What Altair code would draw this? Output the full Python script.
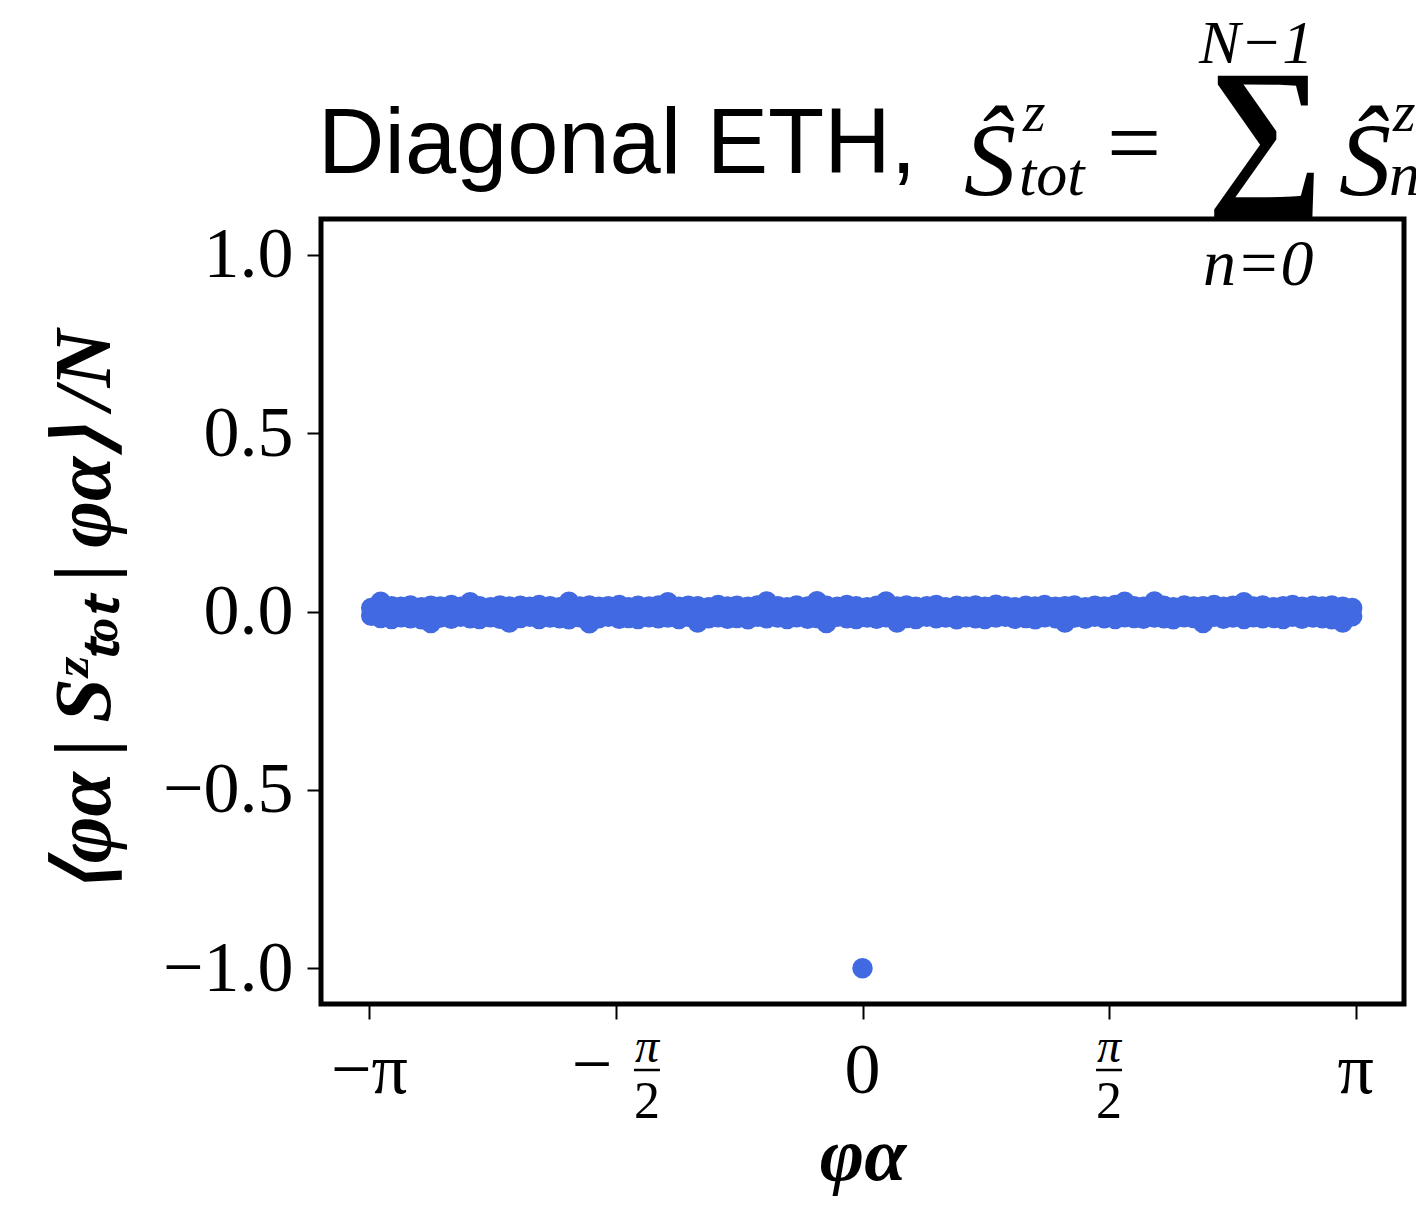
import math
import altair as alt
import pandas as pd

PI = math.pi

# ---------------- data ----------------
band_x = [
    -3.13, -3.07, -3.00, -2.94, -2.88, -2.81, -2.75, -2.69, -2.62, -2.56,
    -2.50, -2.44, -2.37, -2.31, -2.25, -2.18, -2.12, -2.06, -1.99, -1.93,
    -1.87, -1.80, -1.74, -1.68, -1.62, -1.55, -1.49, -1.43, -1.36, -1.30,
    -1.24, -1.17, -1.11, -1.05, -0.98, -0.92, -0.86, -0.80, -0.73, -0.67,
    -0.61, -0.54, -0.48, -0.42, -0.35, -0.29, -0.23, -0.16, -0.10, -0.04,
    0.03, 0.09, 0.15, 0.22, 0.28, 0.34, 0.41, 0.47, 0.53, 0.60,
    0.66, 0.72, 0.78, 0.85, 0.91, 0.97, 1.04, 1.10, 1.16, 1.23,
    1.29, 1.35, 1.42, 1.48, 1.54, 1.61, 1.67, 1.73, 1.79, 1.86,
    1.92, 1.98, 2.05, 2.11, 2.17, 2.24, 2.30, 2.36, 2.43, 2.49,
    2.55, 2.62, 2.68, 2.74, 2.80, 2.87, 2.93, 2.99, 3.06, 3.12,
]
band_y_upper = [
    0.010, 0.027, 0.015, 0.013, 0.017, 0.012, 0.016, 0.014, 0.018, 0.013,
    0.026, 0.015, 0.012, 0.017, 0.014, 0.016, 0.013, 0.018, 0.015, 0.012,
    0.027, 0.014, 0.017, 0.013, 0.015, 0.018, 0.012, 0.016, 0.014, 0.017,
    0.026, 0.013, 0.016, 0.015, 0.012, 0.018, 0.014, 0.016, 0.013, 0.017,
    0.028, 0.015, 0.012, 0.017, 0.014, 0.029, 0.016, 0.013, 0.018, 0.015,
    0.012, 0.016, 0.028, 0.014, 0.017, 0.013, 0.015, 0.018, 0.012, 0.016,
    0.014, 0.017, 0.013, 0.019, 0.015, 0.012, 0.016, 0.014, 0.018, 0.013,
    0.015, 0.017, 0.012, 0.016, 0.014, 0.018, 0.027, 0.015, 0.013, 0.028,
    0.016, 0.012, 0.017, 0.014, 0.015, 0.018, 0.013, 0.016, 0.026, 0.014,
    0.017, 0.012, 0.015, 0.018, 0.013, 0.016, 0.014, 0.017, 0.013, 0.010,
]
band_y_lower = [
    -0.012, -0.018, -0.021, -0.016, -0.019, -0.022, -0.032, -0.017, -0.020, -0.015,
    -0.019, -0.021, -0.016, -0.020, -0.031, -0.018, -0.015, -0.021, -0.017, -0.019,
    -0.022, -0.016, -0.033, -0.019, -0.015, -0.020, -0.018, -0.021, -0.016, -0.019,
    -0.017, -0.021, -0.015, -0.031, -0.019, -0.016, -0.020, -0.018, -0.022, -0.015,
    -0.019, -0.017, -0.021, -0.016, -0.020, -0.018, -0.032, -0.015, -0.019, -0.021,
    -0.017, -0.020, -0.016, -0.031, -0.018, -0.021, -0.015, -0.019, -0.017, -0.022,
    -0.016, -0.019, -0.021, -0.017, -0.015, -0.020, -0.018, -0.022, -0.016, -0.019,
    -0.031, -0.017, -0.020, -0.015, -0.019, -0.021, -0.016, -0.018, -0.020, -0.017,
    -0.019, -0.022, -0.016, -0.018, -0.032, -0.015, -0.020, -0.017, -0.021, -0.016,
    -0.019, -0.018, -0.021, -0.015, -0.020, -0.017, -0.019, -0.022, -0.031, -0.013,
]
outlier_x = [0.0]
outlier_y = [-1.0]

ytick_values = [-1.0, -0.5, 0.0, 0.5, 1.0]
xtick_values = [-PI, -PI / 2, 0.0, PI / 2, PI]
xtick_main = ["−π", "", "0", "", "π"]
frac_ticks = [-PI / 2, PI / 2]
frac_sign = ["−", ""]
frac_num = ["π", "π"]
frac_den = ["2", "2"]

# ---------------- build ----------------
SERIF = "Liberation Serif"
SANS = "Liberation Sans"
BLUE = "#4169E1"

points = pd.DataFrame({
    "x": band_x + band_x + outlier_x,
    "y": band_y_upper + band_y_lower + outlier_y,
})

W, H = 1083, 785
xscale = alt.Scale(domain=[-3.45, 3.45], nice=False, zero=False)
yscale = alt.Scale(domain=[-1.1, 1.1], nice=False, zero=False)

TS = "\u2009"  # thin space
ytitle = "⟨φα" + TS + "|" + TS + "Sᶻₜₒₜ" + TS + "|" + TS + "φα⟩" + TS + "/" + "N"

pts = alt.Chart(points).mark_circle(size=420, color=BLUE, opacity=1).encode(
    x=alt.X("x:Q", scale=xscale,
            axis=alt.Axis(values=xtick_values, labels=False, tickSize=15, tickWidth=2,
                          tickColor="black", domain=False, grid=False,
                          title="φα", titleFont=SERIF, titleFontSize=76,
                          titleFontWeight="bold", titleFontStyle="italic",
                          titleColor="black", titlePadding=99)),
    y=alt.Y("y:Q", scale=yscale,
            axis=alt.Axis(values=ytick_values, format=".1f", tickSize=14, tickWidth=2,
                          tickColor="black", domain=False, grid=False,
                          labelFont=SERIF, labelFontSize=72, labelColor="black",
                          labelPadding=14,
                          title=ytitle, titleFont=SERIF, titleFontSize=80,
                          titleFontWeight="bold", titleFontStyle="italic",
                          titleColor="black", titlePadding=36)),
)

# x tick labels
xlab_df = pd.DataFrame({"x": xtick_values, "t": xtick_main})
xlabels = alt.Chart(xlab_df).mark_text(
    font=SERIF, fontSize=72, color="black", align="center", baseline="alphabetic", dy=89
).encode(x=alt.X("x:Q", scale=xscale), y=alt.datum(-1.1), text="t:N")

layers = [pts, xlabels]
for xv, sg, nm, dn in zip(frac_ticks, frac_sign, frac_num, frac_den):
    off = 31 if sg else 0
    one = alt.Data(values=[{"k": 0}])
    if sg:
        layers.append(alt.Chart(one).mark_text(
            font=SERIF, fontSize=72, color="black", align="center", baseline="alphabetic",
            dx=-24, dy=84).encode(
                x=alt.X(datum=xv, type="quantitative", scale=xscale),
                y=alt.datum(-1.1), text=alt.value(sg)))
    layers.append(alt.Chart(one).mark_text(
        font=SERIF, fontSize=48, fontStyle="italic", color="black", align="center",
        baseline="alphabetic", dx=off, dy=58).encode(
            x=alt.X(datum=xv, type="quantitative", scale=xscale),
            y=alt.datum(-1.1), text=alt.value(nm)))
    layers.append(alt.Chart(one).mark_text(
        font=SERIF, fontSize=52, color="black", align="center",
        baseline="alphabetic", dx=off, dy=114).encode(
            x=alt.X(datum=xv, type="quantitative", scale=xscale),
            y=alt.datum(-1.1), text=alt.value(dn)))
    layers.append(alt.Chart(one).mark_rule(
        color="black", strokeWidth=2.5, xOffset=off - 13, x2Offset=off + 13,
        yOffset=66, y2Offset=66).encode(
            x=alt.X(datum=xv, type="quantitative", scale=xscale),
            x2=alt.X2(datum=xv),
            y=alt.datum(-1.1)))

# title pieces (layout annotations, pixel positions relative to the plot area)
title_pieces = [
    ("Diagonal ETH,", -3, -46, 92, SANS, "normal", "normal"),
    ("Ŝ", 643, -24, 104, SERIF, "italic", "normal"),
    ("z", 702, -88, 58, SERIF, "italic", "normal"),
    ("tot", 698, -24, 62, SERIF, "italic", "normal"),
    ("=", 786, -44, 96, SERIF, "normal", "normal"),
    ("∑", 886, -36, 164, SERIF, "normal", "bold"),
    ("N−1", 878, -156, 62, SERIF, "italic", "normal"),
    ("n=0", 882, 66, 66, SERIF, "italic", "normal"),
    ("Ŝ", 1018, -24, 104, SERIF, "italic", "normal"),
    ("z", 1072, -88, 58, SERIF, "italic", "normal"),
    ("n", 1068, -24, 62, SERIF, "italic", "normal"),
]
for txt, px, py, fs, fnt, sty, wt in title_pieces:
    layers.append(alt.Chart(alt.Data(values=[{"k": 0}])).mark_text(
        font=fnt, fontSize=fs, fontStyle=sty, fontWeight=wt, color="black", align="left",
        baseline="alphabetic").encode(
            x=alt.value(px), y=alt.value(py), text=alt.value(txt)))

chart = alt.layer(*layers).properties(
    width=W, height=H,
    autosize=alt.AutoSizeParams(type="none"),
    padding={"left": 313, "top": 211, "right": 12, "bottom": 192},
).configure_view(stroke="black", strokeWidth=5).configure_axis(labelColor="black")

chart.save("out.html", embed_options={"renderer": "svg", "actions": False})
